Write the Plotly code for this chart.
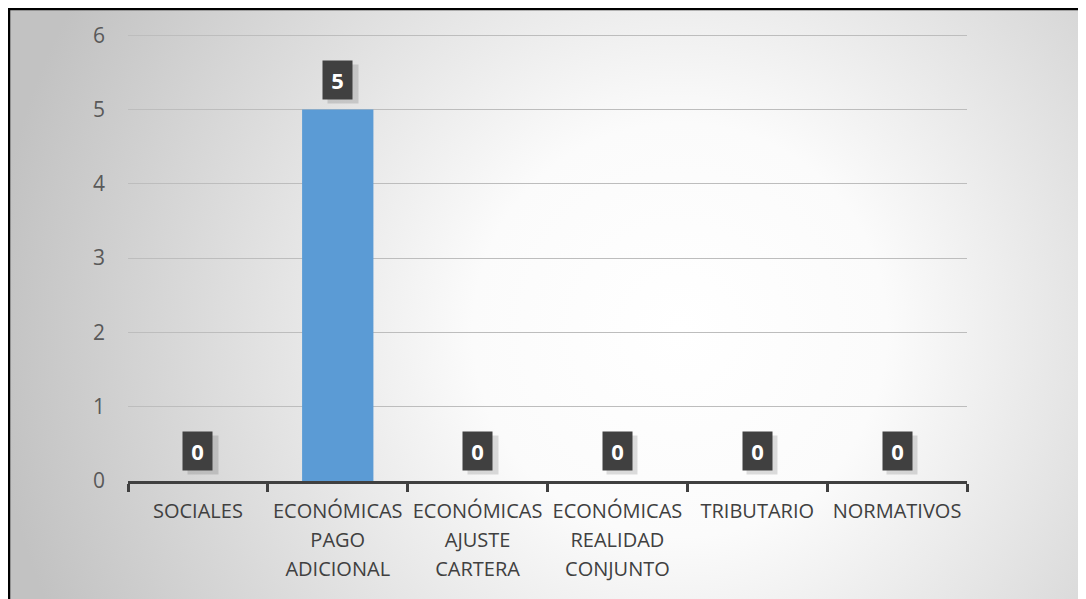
import base64
import plotly.graph_objects as go

categories = ["SOCIALES", "ECONÓMICAS PAGO ADICIONAL", "ECONÓMICAS AJUSTE CARTERA",
              "ECONÓMICAS REALIDAD CONJUNTO", "TRIBUTARIO", "NORMATIVOS"]
tick_lines = [["SOCIALES"], ["ECONÓMICAS", "PAGO", "ADICIONAL"], ["ECONÓMICAS", "AJUSTE", "CARTERA"],
              ["ECONÓMICAS", "REALIDAD", "CONJUNTO"], ["TRIBUTARIO"], ["NORMATIVOS"]]
values = [0, 5, 0, 0, 0, 0]
y_ticks = [0, 1, 2, 3, 4, 5, 6]

# page body has an 8px margin; figure sized to fill the rest of the window
W, H = 1078, 591
OX, OY = 8, 8
L, R, T, B = 128 - OX, 1086 - 967, 33 - OY, 599 - 481
PW, PH = W - L - R, H - T - B

bg_svg = f'''<svg xmlns="http://www.w3.org/2000/svg" width="{W}" height="{H}" viewBox="0 0 {W} {H}" preserveAspectRatio="none">
<defs><radialGradient id="g" gradientUnits="userSpaceOnUse" cx="672" cy="322" r="690">
<stop offset="0" stop-color="#ffffff"/><stop offset="0.3" stop-color="#fbfbfb"/><stop offset="1" stop-color="#c2c2c2"/></radialGradient></defs>
<rect x="0" y="0" width="{W}" height="{H}" fill="url(#g)"/>
<path d="M1,{H+5} L1,1 L{W-1},1 L{W-1},{H+5}" fill="none" stroke="#000000" stroke-width="2.5"/>
</svg>'''
bg_uri = "data:image/svg+xml;base64," + base64.b64encode(bg_svg.encode()).decode()

span = '<span style="font-size:20px">{}</span>'
ticktext = ["<br>".join(span.format(t) for t in lines) for lines in tick_lines]

fig = go.Figure()
fig.add_trace(go.Bar(x=categories, y=values, marker=dict(color="#5b9bd5", line=dict(width=0)),
                     width=0.51, hoverinfo="x+y"))

# data labels: soft shadow + dark box
for c, v in zip(categories, values):
    fig.add_annotation(x=c, y=v, xref="x", yref="y", text=" ", showarrow=False,
                       yanchor="bottom", yshift=6, xshift=5, width=30, height=38,
                       bgcolor="rgba(0,0,0,0.13)", borderpad=0)
    fig.add_annotation(x=c, y=v, xref="x", yref="y", text=f"<b>{v}</b>", showarrow=False,
                       yanchor="bottom", yshift=10, width=29, height=38,
                       bgcolor="#404040", borderpad=0,
                       font=dict(family="Open Sans, sans-serif", size=22, color="#ffffff"))

fig.add_layout_image(dict(source=bg_uri, xref="paper", yref="paper", x=-L / PW, y=1 + T / PH,
                          sizex=W / PW, sizey=H / PH, xanchor="left", yanchor="top",
                          sizing="stretch", layer="below"))

fig.update_layout(
    width=W, height=H,
    margin=dict(l=L, r=R, t=T, b=B, pad=0),
    paper_bgcolor="rgba(0,0,0,0)", plot_bgcolor="rgba(0,0,0,0)",
    showlegend=False, bargap=0.49,
    font=dict(family="Open Sans, sans-serif", color="#595959"),
    xaxis=dict(tickmode="array", tickvals=categories, ticktext=ticktext, tickangle=0,
               automargin=False, ticklabelstandoff=8,
               tickfont=dict(size=22, color="#404040"), showgrid=False,
               showline=True, linecolor="#404040", linewidth=3,
               ticks="outside", tickson="boundaries", ticklen=8, tickwidth=3, tickcolor="#404040",
               zeroline=False, fixedrange=True),
    yaxis=dict(range=[0, 6.03], tickmode="array", tickvals=y_ticks, showline=False, automargin=False,
               showgrid=True, gridcolor="#bdbdbd", gridwidth=1, zeroline=False,
               tickfont=dict(size=21, color="#595959"), ticks="", ticklabelstandoff=22,
               fixedrange=True),
)

fig.write_html("out.html")
